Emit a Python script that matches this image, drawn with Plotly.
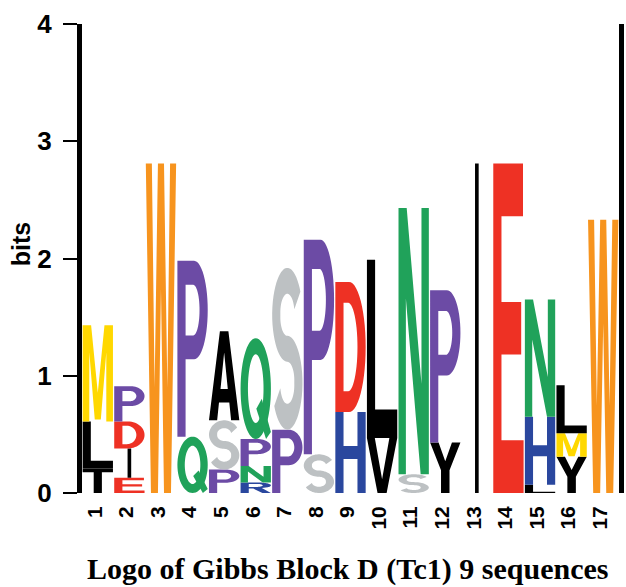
import math
import plotly.graph_objects as go

# ---------------- data ----------------
positions = list(range(1, 18))
tick_labels = [str(p) for p in positions]
# letters stacked bottom -> top, with their heights in bits
stack_letters = [
    ["T", "L", "M"],
    ["E", "I", "D", "P"],
    ["W"],
    ["Q", "P"],
    ["P", "S", "A"],
    ["R", "N", "P", "Q"],
    ["P", "S"],
    ["S", "P"],
    ["H", "D"],
    ["V", "L"],
    ["S", "N"],
    ["Y", "P"],
    ["I"],
    ["E"],
    ["L", "H", "N"],
    ["Y", "M", "L"],
    ["W"],
]
stack_bits = [
    [0.21, 0.40, 0.82],
    [0.13, 0.25, 0.23, 0.30],
    [2.81],
    [0.48, 1.50],
    [0.20, 0.42, 0.76],
    [0.09, 0.14, 0.23, 0.86],
    [0.54, 1.38],
    [0.33, 1.83],
    [0.69, 1.11],
    [0.47, 1.52],
    [0.16, 2.27],
    [0.43, 1.30],
    [2.81],
    [2.81],
    [0.07, 0.58, 1.00],
    [0.31, 0.20, 0.41],
    [2.33],
]
y_ticks = [0, 1, 2, 3, 4]
title_text = "Logo of Gibbs Block D (Tc1) 9 sequences"

# ---------------- style ----------------
letter_colors = {
    "M": "#FFD800", "W": "#F7941E", "P": "#6C4BA5", "D": "#EE3124", "E": "#EE3124",
    "Q": "#20A25A", "N": "#20A25A", "S": "#BDC1C3", "H": "#2A479E", "R": "#2A479E",
    "L": "#000000", "T": "#000000", "I": "#000000", "A": "#000000", "V": "#000000",
    "Y": "#000000",
}
SW = 0.27   # stem width (fraction of glyph width)
BH = 0.16   # bar height (fraction of glyph height)
HALF_W = 0.48


def arc(cx, cy, rx, ry, a0, a1, n=28):
    pts = []
    for i in range(n + 1):
        t = math.radians(a0 + (a1 - a0) * i / n)
        pts.append((cx + rx * math.cos(t), cy + ry * math.sin(t)))
    return pts


def rect(x0, y0, x1, y1):
    return [(x0, y0), (x1, y0), (x1, y1), (x0, y1)]


def s_glyph():
    a, b = SW / 2, BH / 2
    ry = (1 - b - 0.5) / 2
    rx = 0.5 - a
    cu = (1 - b + 0.5) / 2
    cl = (0.5 + b) / 2
    spine = arc(0.5, cu, rx, ry, 25, 270, 40) + arc(0.5, cl, rx, ry, 90, -155, 40)[1:]
    left, right = [], []
    n = len(spine)
    for i in range(n):
        p0 = spine[max(i - 1, 0)]
        p1 = spine[min(i + 1, n - 1)]
        tx, ty = p1[0] - p0[0], p1[1] - p0[1]
        L = math.hypot(tx, ty) or 1
        nx, ny = -ty / L, tx / L
        x, y = spine[i]
        left.append((x + a * nx, y + b * ny))
        right.append((x - a * nx, y - b * ny))
    return [[left + right[::-1]]]


def glyph(ch):
    if ch == "E":
        return [[[(0, 0), (1, 0), (1, BH), (SW, BH), (SW, 0.5 - BH / 2), (0.92, 0.5 - BH / 2),
                  (0.92, 0.5 + BH / 2), (SW, 0.5 + BH / 2), (SW, 1 - BH), (0.98, 1 - BH),
                  (0.98, 1), (0, 1)]]]
    if ch == "L":
        return [[[(0, 0), (1, 0), (1, BH), (SW, BH), (SW, 1), (0, 1)]]]
    if ch == "T":
        h = SW / 2
        return [[[(0, 1), (1, 1), (1, 1 - BH), (0.5 + h, 1 - BH), (0.5 + h, 0),
                  (0.5 - h, 0), (0.5 - h, 1 - BH), (0, 1 - BH)]]]
    if ch == "I":
        return [[rect(0.44, 0, 0.56, 1)]]
    if ch == "H":
        return [[[(0, 0), (SW, 0), (SW, 0.5 - BH / 2), (1 - SW, 0.5 - BH / 2), (1 - SW, 0),
                  (1, 0), (1, 1), (1 - SW, 1), (1 - SW, 0.5 + BH / 2), (SW, 0.5 + BH / 2),
                  (SW, 1), (0, 1)]]]
    if ch == "N":
        s = SW * 0.9
        return [[[(0, 0), (s, 0), (s, 0.66), (1 - SW, 0), (1, 0), (1, 1), (1 - s, 1),
                  (1 - s, 0.34), (SW, 1), (0, 1)]]]
    if ch == "M":
        s = 0.22
        return [[[(0, 0), (s, 0), (s, 0.72), (0.4, 0.02), (0.6, 0.02), (1 - s, 0.72),
                  (1 - s, 0), (1, 0), (1, 1), (0.72, 1), (0.5, 0.3), (0.28, 1), (0, 1)]]]
    if ch == "V":
        return [[[(0, 1), (0.35, 0), (0.65, 0), (1, 1), (0.74, 1), (0.5, 0.25), (0.26, 1)]]]
    if ch == "W":
        return [[[(0, 1), (0.17, 0), (0.4, 0), (0.5, 0.62), (0.6, 0), (0.83, 0), (1, 1),
                  (0.8, 1), (0.71, 0.32), (0.6, 1), (0.4, 1), (0.29, 0.32), (0.2, 1)]]]
    if ch == "Y":
        return [[[(0, 1), (0.36, 0.45), (0.36, 0), (0.64, 0), (0.64, 0.45), (1, 1),
                  (0.72, 1), (0.5, 0.63), (0.28, 1)]]]
    if ch == "A":
        return [[[(0, 0), (0.27, 0), (0.33, 0.2), (0.67, 0.2), (0.73, 0), (1, 0),
                  (0.64, 1), (0.36, 1)],
                 [(0.38, 0.35), (0.62, 0.35), (0.5, 0.76)]]]
    if ch == "D":
        outer = [(0, 0), (0.45, 0)] + arc(0.45, 0.5, 0.55, 0.5, -90, 90) + [(0, 1)]
        inner = [(SW, BH), (0.42, BH)] + arc(0.42, 0.5, 1 - SW - 0.42, 0.5 - BH, -90, 90) + [(SW, 1 - BH)]
        return [[outer, inner]]
    if ch in ("P", "R"):
        bb = 0.44
        cy = (1 + bb) / 2
        ry = (1 - bb) / 2
        t = BH * 0.85
        if ch == "P":
            outer = [(0, 0), (SW, 0), (SW, bb), (0.55, bb)] + arc(0.55, cy, 0.45, ry, -90, 90) + [(0, 1)]
        else:
            outer = [(0, 0), (SW, 0), (SW, bb - 0.02), (0.42, bb - 0.02), (0.72, 0), (1, 0),
                     (0.7, 0.47)] + arc(0.55, cy, 0.45, ry, -40, 90) + [(0, 1)]
        inner = [(SW, bb + t), (0.52, bb + t)] + arc(0.52, cy, 1 - SW - 0.52, ry - t, -90, 90) + [(SW, 1 - t)]
        return [[outer, inner]]
    if ch == "Q":
        outer = arc(0.5, 0.5, 0.5, 0.5, 0, 360, 60)
        inner = arc(0.5, 0.5, 0.5 - SW * 0.9, 0.5 - BH, 0, 360, 60)
        tail = [(0.52, 0.3), (0.7, 0.4), (1.0, 0.07), (0.84, 0.0)]
        return [[outer, inner], [tail]]
    if ch == "S":
        return s_glyph()
    return [[rect(0, 0, 1, 1)]]


shapes = []
for pos, letters, bits in zip(positions, stack_letters, stack_bits):
    base = 0.0
    for ch, h in zip(letters, bits):
        x0 = pos - HALF_W
        w = 2 * HALF_W
        for path_polys in glyph(ch):
            d = ""
            for poly in path_polys:
                pts = [(x0 + u * w, base + v * h) for u, v in poly]
                d += "M" + " L".join(f"{x:.4f},{y:.4f}" for x, y in pts) + " Z "
            shapes.append(dict(type="path", path=d.strip(), xref="x", yref="y",
                               fillcolor=letter_colors[ch], line=dict(width=0),
                               fillrule="evenodd", layer="above"))
        base += h

fig = go.Figure()
# invisible trace to establish axes
fig.add_trace(go.Scatter(x=positions, y=[0] * len(positions), mode="markers",
                         marker=dict(opacity=0), hoverinfo="skip", showlegend=False))

fig.update_layout(
    template="none",
    width=626, height=587,
    margin=dict(l=82, r=7, t=24, b=94, pad=0),
    paper_bgcolor="white", plot_bgcolor="white",
    shapes=shapes,
    showlegend=False,
    xaxis=dict(range=[0.5, 17.5], tickvals=positions, ticktext=tick_labels,
               tickangle=-90, ticks="", showline=False, showgrid=False, zeroline=False,
               automargin=False, ticklabelstandoff=8, ticklabelshift=-3,
               tickfont=dict(family="Liberation Sans, Arial", size=21, color="black", weight="bold")),
    yaxis=dict(range=[0, 4], tickvals=y_ticks, ticktext=[str(v) for v in y_ticks],
               ticks="outside", ticklen=14, tickwidth=2, tickcolor="black",
               showline=True, linewidth=5, linecolor="black", mirror=True,
               showgrid=False, zeroline=False, automargin=False, ticklabelstandoff=6,
               tickfont=dict(family="Liberation Sans, Arial", size=26, color="black", weight="bold")),
    annotations=[
        dict(text="bits", x=-0.112, y=0.53, xref="paper", yref="paper", textangle=-90,
             showarrow=False, xanchor="center", yanchor="middle",
             font=dict(family="Liberation Sans, Arial", size=25, color="black", weight="bold")),
        dict(text=title_text, x=0.495, y=-0.162, xref="paper", yref="paper",
             showarrow=False, xanchor="center", yanchor="middle",
             font=dict(family="Liberation Serif, Times New Roman", size=30, color="black", weight="bold")),
    ],
)

fig.write_html("out.html", config={"displayModeBar": False},
               post_script="document.body.style.margin='0px';document.body.style.padding='0px';")
